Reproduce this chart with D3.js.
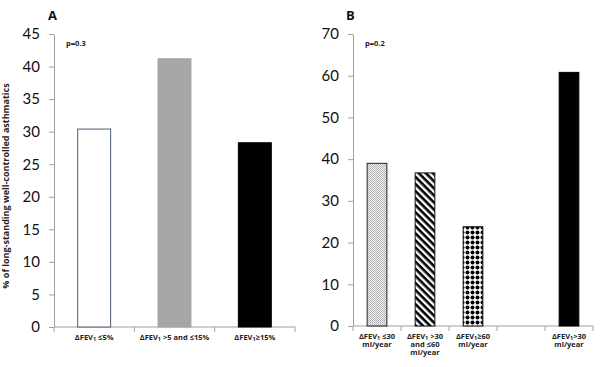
<!DOCTYPE html>
<html><head><meta charset="utf-8">
<script src="https://cdn.jsdelivr.net/npm/d3@7"></script>
<style>
body{margin:0;background:#fff;}
svg{display:block;}
</style></head>
<body><svg id="c" width="600" height="367"></svg>
<script>
// Panel A data
const catsA = ["≤5%", ">5 and ≤15%", "≥15%"];
const valsA = [30.4, 41.2, 28.3];
const ticksA = [0,5,10,15,20,25,30,35,40,45];
// Panel B data
const catsB = ["≤30", ">30 and ≤60", "≥60", "", ">30"];
const valsB = [39.0, 36.7, 23.8, null, 60.8];
const ticksB = [0,10,20,30,40,50,60,70];
const labelsA = [["ΔFEV|1| ≤5%"],["ΔFEV|1| >5 and ≤15%"],["ΔFEV|1|≥15%"]];
const labelsB = [["ΔFEV|1| ≤30","ml/year"],["ΔFEV|1| >30","and ≤60","ml/year"],["ΔFEV|1|≥60","ml/year"],[],["ΔFEV|1|>30","ml/year"]];

const svg = d3.select("#c");
const defs = svg.append("defs");
// patterns
const p1 = defs.append("pattern").attr("id","stip").attr("patternUnits","userSpaceOnUse").attr("width",2).attr("height",2);
p1.append("rect").attr("width",2).attr("height",2).attr("fill","#f2f2f2");
p1.append("rect").attr("width",1).attr("height",1).attr("fill","#aaa");
p1.append("rect").attr("x",1).attr("y",1).attr("width",1).attr("height",1).attr("fill","#bbb");
const p2 = defs.append("pattern").attr("id","diag").attr("patternUnits","userSpaceOnUse").attr("width",5).attr("height",5).attr("patternTransform","rotate(45)");
p2.append("rect").attr("width",5).attr("height",5).attr("fill","#fff");
p2.append("rect").attr("width",5).attr("height",2.6).attr("fill","#000");
const p3 = defs.append("pattern").attr("id","dots").attr("patternUnits","userSpaceOnUse").attr("width",5).attr("height",5);
p3.append("rect").attr("width",5).attr("height",5).attr("fill","#fff");
p3.append("circle").attr("cx",2.5).attr("cy",2.5).attr("r",2.0).attr("fill","#000");

const axisColor = "#a0a0a0";
function panel(cats, vals, ticks, ymax, xr, yr, barFrac, fills, strokes, labels, title, ptext){
  const x = d3.scaleBand().domain(d3.range(cats.length)).range(xr).padding(0);
  const y = d3.scaleLinear().domain([0,ymax]).range(yr);
  const g = svg.append("g");
  // y axis
  const ya = g.append("g").attr("transform",`translate(${xr[0]},0)`)
    .call(d3.axisLeft(y).tickValues(ticks).tickSize(5).tickPadding(9).tickSizeOuter(0));
  ya.select(".domain").attr("stroke",axisColor);
  ya.selectAll(".tick line").attr("stroke",axisColor);
  ya.selectAll(".tick text").attr("font-family","Lato, 'Open Sans', sans-serif").attr("font-size",15).attr("fill","#111");
  // x axis line and boundary ticks
  g.append("line").attr("x1",xr[0]).attr("x2",xr[1]).attr("y1",y(0)).attr("y2",y(0)).attr("stroke",axisColor);
  const bounds = d3.range(cats.length+1).map(i => i<cats.length ? x(i) : x(cats.length-1)+x.bandwidth());
  g.selectAll(".bt").data(bounds).join("line").attr("x1",d=>d).attr("x2",d=>d)
    .attr("y1",y(0)).attr("y2",y(0)+5).attr("stroke",axisColor);
  // bars
  const bw = x.bandwidth()*barFrac;
  g.selectAll(".bar").data(vals.map((v,i)=>({v,i})).filter(d=>d.v!=null)).join("rect")
    .attr("x",d=>x(d.i)+(x.bandwidth()-bw)/2).attr("width",bw)
    .attr("y",d=>y(d.v)).attr("height",d=>y(0)-y(d.v))
    .attr("fill",d=>fills[d.i]).attr("stroke",d=>strokes[d.i]).attr("stroke-width",1);
  // labels
  labels.forEach((lines,i)=>{
    lines.forEach((ln,j)=>{
      const t = g.append("text").attr("text-anchor","middle")
        .attr("font-family","'Open Sans', sans-serif").attr("font-weight","bold").attr("font-size",7.5).attr("fill","#222");
      const parts = ln.split("|");
      const cx = x(i)+x.bandwidth()/2;
      const yy = y(0)+13+j*8;
      t.attr("x",cx).attr("y",yy);
      parts.forEach((p,k)=>{
        const ts = t.append("tspan").text(p);
        if(k===1) ts.attr("font-size",5.5).attr("dy",1.3);
        if(k===2) ts.attr("dy",-1.3);
      });
    });
  });
  svg.append("text").attr("x",title[1]).attr("y",title[2]).text(title[0])
    .attr("font-family","'Open Sans', sans-serif").attr("font-weight","bold").attr("font-size",13).attr("fill","#111");
  svg.append("text").attr("x",xr[0]+12).attr("y",46).text(ptext)
    .attr("font-family","'Open Sans', sans-serif").attr("font-weight","bold").attr("font-size",7.5).attr("fill","#222");
}
panel(catsA, valsA, ticksA, 45, [54,295], [327,34], 0.41,
  ["#fff","#a6a6a6","#000"], ["#4a5a78","#a6a6a6","#000"], labelsA, ["A",48,20], "p=0.3");
panel(catsB, valsB, ticksB, 70, [353,593], [326,34], 0.41,
  ["url(#stip)","url(#diag)","url(#dots)",null,"#000"], ["#222","#111","#111",null,"#000"], labelsB, ["B",346,20], "p=0.2");

svg.append("text").attr("transform","translate(9,186) rotate(-90)").attr("text-anchor","middle")
  .attr("font-family","'Open Sans', sans-serif").attr("font-weight","bold").attr("font-size",9).attr("fill","#222")
  .text("% of long-standing well-controlled asthmatics");
</script></body></html>
